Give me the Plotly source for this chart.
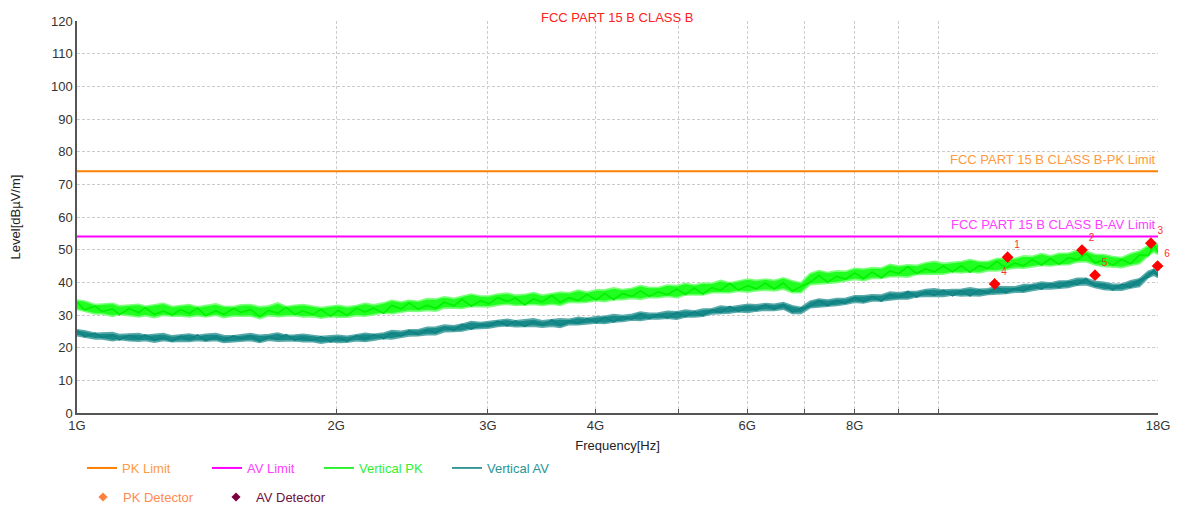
import plotly.graph_objects as go

# ---------------- data ----------------
freq_ghz = [1.00, 1.02, 1.05, 1.07, 1.10, 1.12, 1.15, 1.18, 1.20, 1.23, 1.26, 1.29, 1.32, 1.35, 1.38, 1.41,
            1.45, 1.48, 1.52, 1.55, 1.59, 1.63, 1.67, 1.71, 1.75, 1.79, 1.83, 1.88, 1.92, 1.97, 2.01, 2.06,
            2.11, 2.16, 2.21, 2.27, 2.32, 2.38, 2.43, 2.49, 2.55, 2.61, 2.67, 2.74, 2.80, 2.87, 2.94, 3.01,
            3.08, 3.16, 3.23, 3.31, 3.39, 3.47, 3.56, 3.64, 3.73, 3.82, 3.91, 4.01, 4.10, 4.20, 4.30, 4.41,
            4.51, 4.62, 4.73, 4.85, 4.97, 5.09, 5.21, 5.33, 5.46, 5.59, 5.73, 5.86, 6.01, 6.15, 6.30, 6.45,
            6.61, 6.77, 6.93, 7.10, 7.27, 7.44, 7.62, 7.81, 8.00, 8.19, 8.38, 8.59, 8.79, 9.00, 9.22, 9.44,
            9.67, 9.90, 10.14, 10.39, 10.64, 10.89, 11.16, 11.42, 11.70, 11.98, 12.27, 12.57, 12.87, 13.18,
            13.50, 13.82, 14.16, 14.50, 14.85, 15.21, 15.57, 15.95, 16.33, 16.73, 17.13, 17.54, 17.80, 18.00]

# Vertical PK trace (sample values) and its noise envelope
vertical_pk = [34.0, 31.6, 32.7, 31.0, 31.9, 30.1, 32.0, 30.7, 32.3, 30.2, 31.2, 30.0, 31.7, 30.4, 32.2, 29.8,
               31.3, 30.2, 32.0, 30.8, 31.7, 29.5, 31.4, 30.5, 32.4, 30.1, 31.3, 30.1, 31.7, 29.6, 31.4, 29.9,
               32.1, 30.9, 32.1, 30.5, 32.9, 31.9, 33.7, 31.8, 33.0, 32.0, 33.9, 32.8, 34.8, 32.7, 34.4, 33.5,
               35.3, 34.2, 35.2, 33.1, 34.9, 34.0, 36.0, 33.9, 35.3, 34.4, 36.3, 34.6, 36.6, 34.7, 36.6, 35.7,
               37.4, 35.7, 37.1, 36.2, 38.0, 36.3, 38.3, 36.4, 38.4, 37.6, 39.7, 37.6, 39.0, 38.0, 39.8, 38.0,
               39.8, 37.3, 38.7, 40.0, 42.1, 40.0, 41.8, 41.0, 42.9, 41.2, 43.2, 41.4, 43.5, 42.7, 44.8, 42.7,
               44.1, 43.2, 45.0, 43.2, 45.1, 43.1, 45.1, 44.3, 46.4, 44.4, 45.9, 45.1, 47.0, 45.3,
               47.3, 45.5, 47.6, 46.9, 48.7, 46.0, 46.8, 45.2, 47.0, 45.7, 48.4, 48.2, 51.4, 49.4]
vertical_pk_max = [34.6, 34.3, 33.2, 33.4, 33.6, 32.8, 33.0, 33.3, 32.7, 33.1, 33.6, 32.6, 32.9, 33.2, 32.5, 32.9,
                   33.4, 32.7, 32.6, 33.1, 33.2, 32.5, 32.8, 33.7, 32.6, 33.0, 33.2, 32.7, 32.3, 32.7, 33.0, 32.5,
                   32.9, 33.6, 33.1, 33.7, 34.5, 34.0, 34.5, 34.2, 35.0, 34.9, 35.6, 35.1, 35.6, 36.4, 35.8, 35.8,
                   36.4, 36.7, 36.1, 36.3, 36.9, 36.1, 36.6, 37.0, 36.8, 37.6, 37.0, 37.7, 37.7, 38.3, 37.8, 38.2,
                   39.0, 38.4, 38.4, 39.2, 39.0, 39.7, 39.2, 39.8, 39.7, 40.6, 39.9, 40.5, 41.0, 40.6, 41.0, 40.6,
                   41.4, 40.5, 39.9, 42.7, 43.6, 43.0, 43.5, 43.4, 44.3, 44.1, 44.5, 44.4, 45.5, 45.0, 45.4, 45.2,
                   46.0, 46.4, 45.8, 46.1, 46.4, 47.0, 46.4, 46.4, 47.3, 47.3, 47.3, 48.1, 48.0, 48.8,
                   48.1, 48.9, 48.9, 49.8, 49.6, 48.6, 48.5, 47.9, 47.6, 48.8, 49.6, 51.3, 52.5, 51.6]
vertical_pk_min = [31.7, 31.2, 30.3, 30.3, 29.6, 30.2, 29.7, 29.4, 29.8, 29.2, 29.9, 29.6, 29.7, 29.4, 29.8, 29.4,
                   29.9, 29.2, 29.7, 29.6, 29.7, 28.9, 29.8, 29.5, 29.7, 29.8, 29.4, 29.5, 29.0, 29.5, 29.3, 29.3,
                   29.8, 29.6, 30.1, 30.6, 30.4, 30.9, 31.2, 31.1, 31.4, 31.2, 32.1, 32.1, 32.0, 32.6, 32.6, 32.5,
                   33.0, 33.3, 32.9, 33.0, 33.2, 32.9, 33.3, 32.9, 33.9, 33.8, 33.9, 34.4, 34.1, 34.7, 34.7, 35.1,
                   34.8, 35.4, 35.3, 35.7, 35.3, 36.1, 36.1, 36.1, 36.8, 36.8, 36.8, 37.3, 37.0, 37.4, 37.6, 37.4,
                   37.9, 36.8, 36.8, 39.3, 39.5, 39.9, 39.9, 40.4, 40.9, 40.5, 41.2, 41.2, 41.7, 41.8, 41.6, 42.4,
                   42.5, 42.5, 42.5, 43.1, 42.9, 43.2, 42.9, 43.5, 43.5, 43.9, 44.4, 44.3, 44.8, 45.2,
                   45.0, 45.4, 45.4, 46.2, 46.3, 45.3, 44.9, 44.8, 44.5, 45.2, 45.7, 48.1, 49.3, 48.5]

# Vertical AV trace (sample values) and its noise envelope
vertical_av = [25.2, 23.4, 24.4, 23.1, 23.8, 22.4, 23.8, 22.8, 23.9, 22.4, 23.1, 22.0, 23.5, 22.5, 23.9, 22.2,
               23.2, 22.3, 23.6, 22.7, 23.6, 22.0, 23.4, 22.6, 24.0, 22.2, 23.1, 22.2, 23.4, 21.8, 23.0, 22.0,
               23.7, 22.7, 24.0, 22.8, 24.4, 23.6, 25.2, 24.0, 25.3, 24.6, 26.3, 25.3, 27.1, 25.7, 27.1, 26.6,
               28.1, 26.7, 28.2, 26.5, 27.8, 26.9, 28.5, 26.9, 28.1, 27.4, 28.9, 27.7, 29.3, 27.9, 29.4, 28.7,
               30.3, 28.9, 30.1, 29.1, 30.8, 29.5, 31.0, 29.8, 31.6, 30.8, 32.6, 31.1, 32.4, 31.5, 33.1, 31.8,
               33.2, 30.9, 32.1, 32.6, 34.4, 32.9, 34.3, 33.6, 35.4, 34.0, 35.7, 34.3, 36.2, 35.3, 37.2, 35.5,
               37.0, 36.0, 37.6, 35.9, 37.4, 35.9, 37.7, 36.6, 38.4, 36.8, 38.1, 37.4, 39.1, 37.9,
               39.6, 38.4, 40.2, 39.3, 41.1, 38.8, 39.3, 37.7, 39.4, 38.5, 40.8, 41.6, 43.8, 42.0]
vertical_av_max = [25.5, 25.2, 24.4, 24.5, 24.6, 24.0, 24.1, 24.3, 23.8, 24.1, 24.3, 23.6, 23.9, 24.2, 23.7, 24.1,
                   24.3, 23.7, 23.6, 24.0, 24.3, 23.8, 24.0, 24.5, 23.8, 23.9, 24.1, 23.7, 23.4, 23.6, 23.8, 23.5,
                   23.9, 24.4, 24.1, 24.5, 25.2, 25.0, 25.5, 25.5, 26.2, 26.3, 26.9, 26.7, 27.2, 28.0, 27.7, 28.0,
                   28.5, 28.7, 28.2, 28.4, 28.8, 28.2, 28.5, 28.8, 28.7, 29.3, 29.0, 29.5, 29.6, 30.1, 29.8, 30.2,
                   30.9, 30.5, 30.6, 31.1, 31.0, 31.5, 31.2, 31.8, 31.9, 32.7, 32.4, 32.8, 33.3, 33.1, 33.5, 33.3,
                   33.8, 32.8, 32.3, 34.2, 34.9, 34.6, 35.0, 35.1, 35.9, 35.9, 36.2, 36.1, 37.0, 36.8, 37.2, 37.2,
                   37.8, 38.0, 37.6, 37.8, 37.9, 38.3, 37.9, 38.0, 38.7, 38.6, 38.6, 39.3, 39.4, 40.1,
                   39.8, 40.4, 40.5, 41.2, 41.2, 40.3, 40.0, 39.4, 39.4, 40.5, 41.1, 43.4, 44.0, 43.3]
vertical_av_min = [23.7, 23.3, 22.7, 22.7, 22.1, 22.5, 22.1, 22.0, 22.2, 21.7, 22.2, 21.8, 22.0, 21.9, 22.2, 22.0,
                   22.2, 21.6, 21.9, 21.9, 22.2, 21.6, 22.3, 22.0, 22.1, 22.1, 21.8, 21.8, 21.4, 21.8, 21.6, 21.7,
                   22.1, 21.9, 22.3, 22.8, 22.7, 23.2, 23.6, 23.7, 24.0, 24.0, 24.9, 25.0, 25.1, 25.7, 25.8, 26.0,
                   26.5, 26.7, 26.4, 26.4, 26.6, 26.3, 26.6, 26.2, 27.1, 27.0, 27.2, 27.6, 27.4, 27.9, 28.0, 28.5,
                   28.3, 28.8, 28.8, 29.0, 28.7, 29.4, 29.4, 29.6, 30.3, 30.4, 30.6, 31.0, 30.8, 31.2, 31.5, 31.4,
                   31.8, 30.5, 30.5, 32.2, 32.4, 32.8, 32.9, 33.3, 33.9, 33.7, 34.3, 34.3, 34.7, 34.9, 34.9, 35.6,
                   35.7, 35.7, 35.7, 36.1, 35.8, 36.0, 35.8, 36.3, 36.4, 36.6, 37.0, 37.0, 37.5, 38.0,
                   38.0, 38.3, 38.4, 39.1, 39.3, 38.4, 37.8, 37.6, 37.6, 38.3, 38.7, 41.5, 42.2, 41.5]

limit_freq_ghz = [1.0, 18.0]
pk_limit = [74, 74]
av_limit = [54, 54]

pk_det_freq_ghz = [12.04, 14.69, 17.66]
pk_det_level = [47.7, 49.9, 52.0]
pk_det_labels = ["1", "2", "3"]

av_det_freq_ghz = [11.63, 15.21, 17.98]
av_det_level = [39.5, 42.2, 45.0]
av_det_labels = ["4", "5", "6"]

tick_ghz = [1, 2, 3, 4, 5, 6, 7, 8, 9, 10, 18]
tick_text = ["1G", "2G", "3G", "4G", "", "6G", "", "8G", "", "", "18G"]

# ---------------- figure ----------------
G = 1e9
FONT = "Liberation Sans, Arial, sans-serif"
FS = 13
fx = [f * G for f in freq_ghz]
fig = go.Figure()

fig.add_trace(go.Scatter(x=[f * G for f in limit_freq_ghz], y=pk_limit, mode="lines",
                         line=dict(color="#ff8000", width=2), name="PK Limit", legend="legend"))
fig.add_trace(go.Scatter(x=[f * G for f in limit_freq_ghz], y=av_limit, mode="lines",
                         line=dict(color="#ff00ff", width=2), name="AV Limit", legend="legend2"))

# PK noise band + trace
fig.add_trace(go.Scatter(x=fx, y=vertical_pk_min, mode="lines", line=dict(color="#7dff7d", width=1.6),
                         showlegend=False, hoverinfo="skip"))
fig.add_trace(go.Scatter(x=fx, y=vertical_pk_max, mode="lines", line=dict(color="#7dff7d", width=1.6),
                         fill="tonexty", fillcolor="#20ff20", showlegend=False, hoverinfo="skip"))
fig.add_trace(go.Scatter(x=fx, y=vertical_pk, mode="lines", line=dict(color="#00f000", width=1.6),
                         name="Vertical PK", legend="legend3"))

# AV noise band + trace
fig.add_trace(go.Scatter(x=fx, y=vertical_av_min, mode="lines", line=dict(color="#5aaaaa", width=1.6),
                         showlegend=False, hoverinfo="skip"))
fig.add_trace(go.Scatter(x=fx, y=vertical_av_max, mode="lines", line=dict(color="#5aaaaa", width=1.6),
                         fill="tonexty", fillcolor="#188a8a", showlegend=False, hoverinfo="skip"))
fig.add_trace(go.Scatter(x=fx, y=vertical_av, mode="lines", line=dict(color="#0f8282", width=1.6),
                         name="Vertical AV", legend="legend4"))

# detector points
fig.add_trace(go.Scatter(x=[f * G for f in pk_det_freq_ghz], y=pk_det_level, mode="markers+text",
                         marker=dict(symbol="diamond", color="#ff0000", size=9),
                         text=pk_det_labels, textposition="top right",
                         textfont=dict(color="#ff3030", size=10, family=FONT), showlegend=False,
                         cliponaxis=False))
fig.add_trace(go.Scatter(x=[f * G for f in av_det_freq_ghz], y=av_det_level, mode="markers+text",
                         marker=dict(symbol="diamond", color="#ff0000", size=9),
                         text=av_det_labels, textposition="top right",
                         textfont=dict(color="#ff3030", size=10, family=FONT), showlegend=False,
                         cliponaxis=False))
# legend entries for detectors
fig.add_trace(go.Scatter(x=[None], y=[None], mode="markers", name="PK Detector",
                         marker=dict(symbol="diamond", color="#ff7f3f", size=7), legend="legend5"))
fig.add_trace(go.Scatter(x=[None], y=[None], mode="markers", name="AV Detector",
                         marker=dict(symbol="diamond", color="#7a0040", size=7), legend="legend6"))

# page is rendered with an 8px body margin, so the figure is 8px smaller and shifted
W, H = 1170, 501
L, R, T, B = 69, 20, 13, 96
PW, PH = W - L - R, H - T - B


def legend_at(px, py, color):
    return dict(x=px / W, y=1 - py / H, xref="container", yref="container",
                xanchor="left", yanchor="middle",
                font=dict(color=color, size=FS, family=FONT), bgcolor="rgba(0,0,0,0)",
                orientation="h", itemwidth=30)


fig.update_layout(
    width=W, height=H,
    margin=dict(l=L, r=R, t=T, b=B, autoexpand=False),
    paper_bgcolor="white", plot_bgcolor="white",
    font=dict(family=FONT, size=FS, color="#333333"),
    legend=legend_at(74, 460, "#ff9a40"),
    legend2=legend_at(199, 460, "#ff40ff"),
    legend3=legend_at(311, 460, "#30f030"),
    legend4=legend_at(439, 460, "#2a9595"),
    legend5=legend_at(75, 489, "#ff8a50"),
    legend6=legend_at(208, 489, "#6a1040"),
)

fig.add_annotation(x=(609 - L) / PW, xref="paper", y=1 + T / PH, yref="paper", showarrow=False,
                   text="FCC PART 15 B CLASS B", xanchor="center", yanchor="top",
                   font=dict(color="#ff2020", size=FS, family=FONT))

fig.update_xaxes(type="log", range=[9, 10.25527], tickvals=[t * G for t in tick_ghz], ticktext=tick_text,
                 showgrid=True, gridcolor="#cccccc", griddash="3px,2px", gridwidth=1,
                 showline=True, linecolor="#555555", linewidth=1.5,
                 ticks="inside", ticklen=4, tickcolor="#555555",
                 tickfont=dict(size=FS, color="#333333"), automargin=False,
                 title=dict(text="Frequency[Hz]", standoff=19, font=dict(size=FS, color="#222222")),
                 zeroline=False)
fig.update_yaxes(range=[0, 120], dtick=10, showgrid=True, gridcolor="#cccccc", griddash="3px,2px",
                 gridwidth=1, showline=True, linecolor="#555555", linewidth=1.5,
                 ticks="", tickfont=dict(size=FS, color="#333333"), automargin=False,
                 title=dict(text="Level[dBµV/m]", standoff=34, font=dict(size=FS, color="#222222")),
                 zeroline=False)

fig.add_annotation(x=1, xref="paper", y=pk_limit[0], yref="y", yshift=12, xanchor="right",
                   yanchor="middle", showarrow=False, text="FCC PART 15 B CLASS B-PK Limit",
                   font=dict(color="#ff9a40", size=FS, family=FONT))
fig.add_annotation(x=1, xref="paper", y=av_limit[0], yref="y", yshift=12, xanchor="right",
                   yanchor="middle", showarrow=False, text="FCC PART 15 B CLASS B-AV Limit",
                   font=dict(color="#ff40ff", size=FS, family=FONT))

fig.write_html("out.html")
